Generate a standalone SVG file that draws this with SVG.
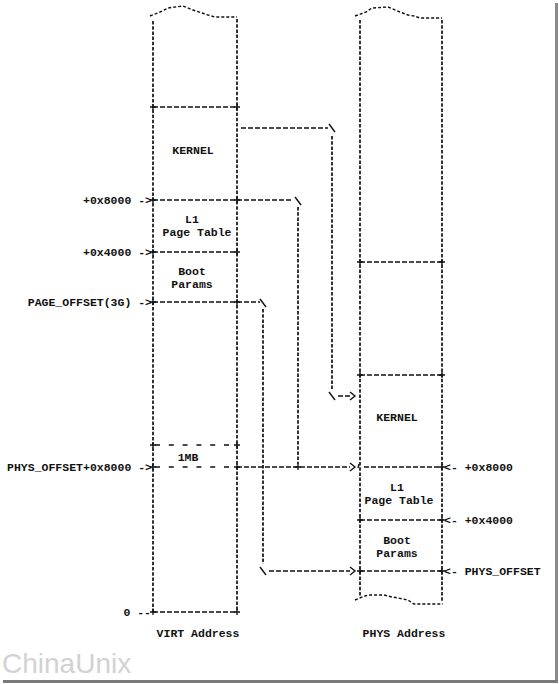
<svg xmlns="http://www.w3.org/2000/svg" xmlns:xlink="http://www.w3.org/1999/xlink" width="559" height="684" viewBox="0 0 559 684">
<style>
.t{font-family:"Liberation Mono","DejaVu Sans Mono",monospace;font-size:11.5px;font-weight:bold;fill:#111}
.c{text-anchor:middle}
.e{text-anchor:end}
.v{stroke:#111;stroke-width:1.7;stroke-dasharray:3.5 1.7;fill:none}
.h{stroke:#111;stroke-width:1.3;stroke-dasharray:5 2;fill:none}
.hs{stroke:#111;stroke-width:1.3;stroke-dasharray:5 8.8;fill:none}
.w{stroke:#111;stroke-width:1.4;stroke-dasharray:3 2;fill:none}
.s{stroke:#111;stroke-width:1.4;fill:none}
</style>
<defs>
<path id="p" d="M-3 0h6M0-3v6" stroke="#111" stroke-width="1.3"/>
<path id="ar" d="M-3-4 L2 0 L-3 4" stroke="#111" stroke-width="1.4" fill="none"/>
</defs>
<rect width="559" height="684" fill="#fff"/>
<g id="frame">
<rect x="555" y="3" width="3" height="680" fill="#8a8a8a"/>
<rect x="3" y="680" width="555" height="3" fill="#7a7a7a"/>
</g>
<text x="2" y="673" style="font-family:'Liberation Sans',Arial,sans-serif;font-size:28px;fill:#d2d2d2">ChinaUnix</text>

<g id="virt">
<polyline class="w" points="150,16 160,12 168,8 183,6 193,10 202,13 208,15 215,17 237,17"/>
<line class="v" x1="153" y1="21" x2="153" y2="612"/>
<line class="v" x1="237" y1="19" x2="237" y2="612"/>
<line class="h" x1="153" y1="107" x2="237" y2="107"/>
<line class="h" x1="153" y1="200" x2="237" y2="200"/>
<line class="h" x1="153" y1="252" x2="237" y2="252"/>
<line class="h" x1="153" y1="302" x2="237" y2="302"/>
<line class="hs" x1="155" y1="445" x2="237" y2="445"/>
<line class="hs" x1="155" y1="467" x2="237" y2="467"/>
<line class="h" x1="153" y1="612" x2="237" y2="612"/>
<use xlink:href="#p" x="153" y="107"/><use xlink:href="#p" x="237" y="107"/>
<use xlink:href="#p" x="153" y="200"/><use xlink:href="#p" x="237" y="200"/>
<use xlink:href="#p" x="153" y="252"/><use xlink:href="#p" x="237" y="252"/>
<use xlink:href="#p" x="153" y="302"/><use xlink:href="#p" x="237" y="302"/>
<use xlink:href="#p" x="153" y="445"/><use xlink:href="#p" x="237" y="445"/>
<use xlink:href="#p" x="153" y="467"/><use xlink:href="#p" x="237" y="467"/>
<use xlink:href="#p" x="153" y="612"/><use xlink:href="#p" x="237" y="612"/>
<text class="t c" x="193" y="154">KERNEL</text>
<text class="t c" x="192" y="223">L1</text>
<text class="t c" x="197" y="236">Page Table</text>
<text class="t c" x="192" y="275">Boot</text>
<text class="t c" x="192" y="288">Params</text>
<text class="t c" x="188" y="461">1MB</text>
<text class="t e" x="152" y="204">+0x8000 -&gt;</text>
<text class="t e" x="152" y="256">+0x4000 -&gt;</text>
<text class="t e" x="152" y="306">PAGE_OFFSET(3G) -&gt;</text>
<text class="t e" x="152" y="471">PHYS_OFFSET+0x8000 -&gt;</text>
<text class="t e" x="151" y="616">0 --</text>
<text class="t c" x="198" y="637">VIRT Address</text>
</g>

<g id="phys">
<polyline class="w" points="355,16 366,12 372,8 388,7 400,12 408,15 414,16 420,18 442,18"/>
<polyline class="w" points="355,600 362,597 368,595 384,595 392,597 398,598 408,600 414,604 443,604"/>
<line class="v" x1="360" y1="20" x2="360" y2="596"/>
<line class="v" x1="442" y1="20" x2="442" y2="602"/>
<line class="h" x1="360" y1="262" x2="442" y2="262"/>
<line class="h" x1="360" y1="375" x2="442" y2="375"/>
<line class="h" x1="364" y1="467" x2="442" y2="467"/>
<line class="h" x1="360" y1="520" x2="442" y2="520"/>
<line class="h" x1="360" y1="571" x2="442" y2="571"/>
<use xlink:href="#p" x="360" y="262"/><use xlink:href="#p" x="442" y="262"/>
<use xlink:href="#p" x="360" y="375"/><use xlink:href="#p" x="442" y="375"/>
<use xlink:href="#p" x="442" y="467"/>
<use xlink:href="#p" x="360" y="520"/><use xlink:href="#p" x="442" y="520"/>
<use xlink:href="#p" x="360" y="571"/><use xlink:href="#p" x="442" y="571"/>
<text class="t c" x="397" y="421">KERNEL</text>
<text class="t c" x="397" y="491">L1</text>
<text class="t c" x="399" y="504">Page Table</text>
<text class="t c" x="397" y="544">Boot</text>
<text class="t c" x="397" y="557">Params</text>
<text class="t" x="444" y="471">&lt;- +0x8000</text>
<text class="t" x="444" y="524">&lt;- +0x4000</text>
<text class="t" x="444" y="575">&lt;- PHYS_OFFSET</text>
<text class="t c" x="404" y="637">PHYS Address</text>
</g>

<g id="connectors">
<line class="h" x1="241" y1="128" x2="328" y2="128"/>
<line class="s" x1="329" y1="124" x2="335" y2="132"/>
<line class="v" x1="332" y1="136" x2="332" y2="390"/>
<line class="s" x1="329" y1="392" x2="335" y2="400"/>
<line class="h" x1="338" y1="396" x2="351" y2="396"/>
<use xlink:href="#ar" x="353" y="396"/>
<line class="h" x1="237" y1="200" x2="293" y2="200"/>
<line class="s" x1="295" y1="197" x2="301" y2="205"/>
<line class="v" x1="298" y1="207" x2="298" y2="464"/>
<use xlink:href="#p" x="298" y="467"/>
<line class="h" x1="237" y1="302" x2="260" y2="302"/>
<line class="s" x1="260" y1="299" x2="266" y2="307"/>
<line class="v" x1="263" y1="309" x2="263" y2="564"/>
<line class="s" x1="260" y1="567" x2="266" y2="575"/>
<line class="h" x1="269" y1="571" x2="350" y2="571"/>
<use xlink:href="#ar" x="353" y="571"/>
<line class="h" x1="237" y1="467" x2="350" y2="467"/>
<use xlink:href="#ar" x="353" y="467"/>
<line class="s" x1="359" y1="464" x2="358" y2="468"/>
</g>
</svg>
